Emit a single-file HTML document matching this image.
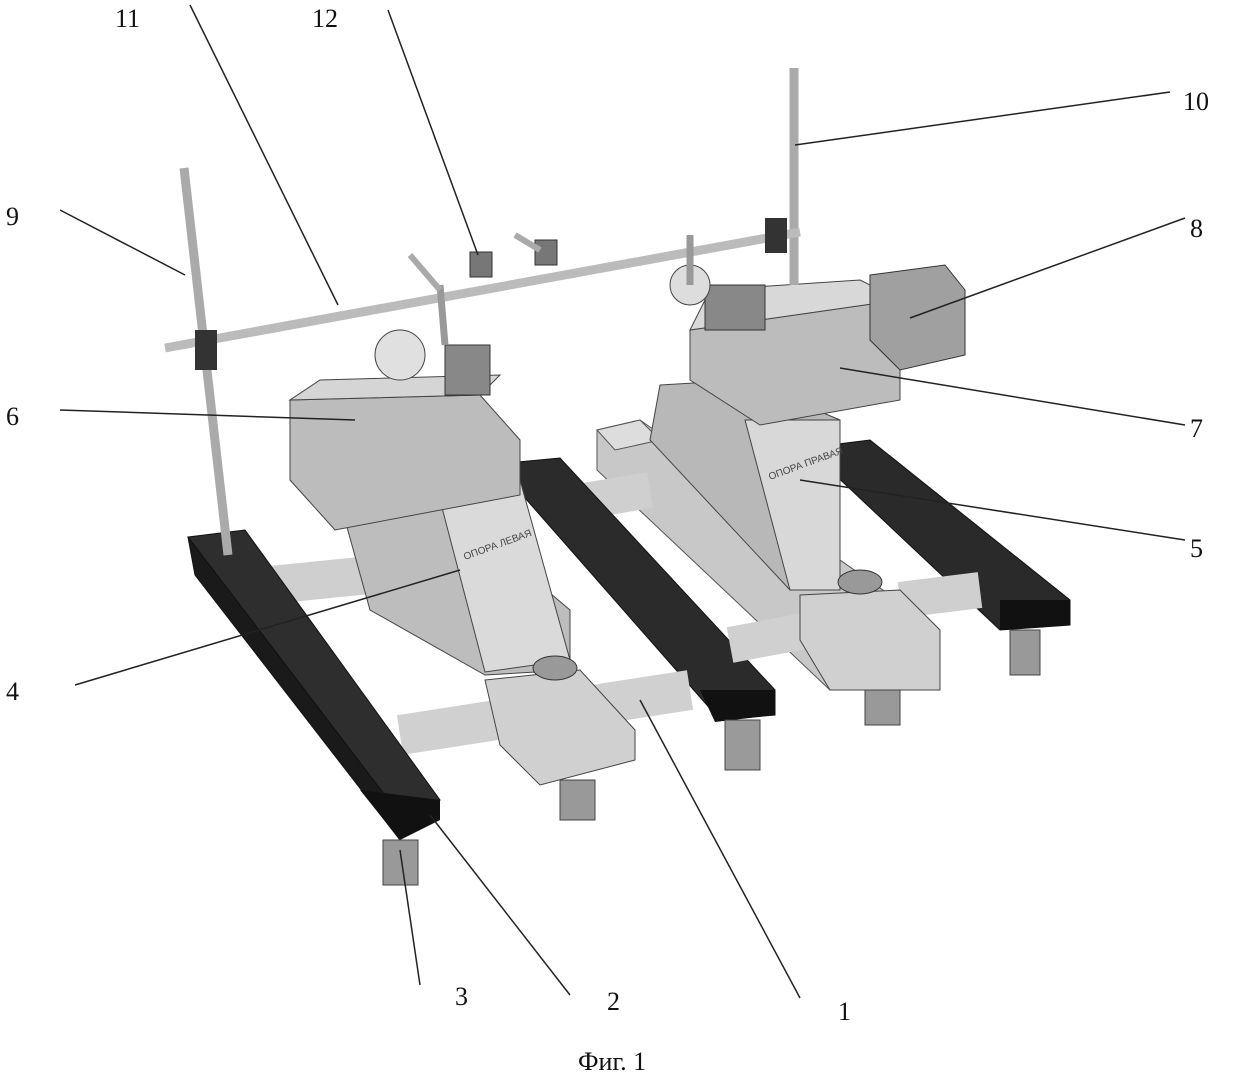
<!DOCTYPE html>
<html><head><meta charset="utf-8"><style>
html,body{margin:0;padding:0;background:#fff;}
svg{display:block}
.lb{font-family:"Liberation Serif",serif;font-size:26px;fill:#111}
.sm{font-family:"Liberation Sans",sans-serif;font-size:10px;fill:#444}
</style></head><body>
<svg width="1248" height="1076" viewBox="0 0 1248 1076" xmlns="http://www.w3.org/2000/svg">
<rect width="1248" height="1076" fill="#fff"/>

<!-- right base plate -->
<polygon points="597,430 640,420 940,630 940,690 830,690 597,470" fill="#c8c8c8" stroke="#555"/>
<polygon points="597,430 640,420 660,440 615,450" fill="#ddd" stroke="#555"/>
<!-- right dark beam -->
<polygon points="830,445 870,440 1070,600 1070,625 1000,630 830,470" fill="#2a2a2a" stroke="#111"/>
<polygon points="1000,600 1070,600 1070,625 1000,630" fill="#111"/>
<rect x="1010" y="630" width="30" height="45" fill="#999" stroke="#444"/>
<!-- back rods -->
<line x1="560" y1="505" x2="650" y2="490" stroke="#cfcfcf" stroke-width="36"/>
<line x1="900" y1="600" x2="980" y2="590" stroke="#cfcfcf" stroke-width="36"/>
<!-- middle dark beam -->
<polygon points="518,462 560,458 775,690 775,715 720,720 518,490" fill="#2b2b2b" stroke="#111"/>
<polygon points="700,690 775,690 775,715 715,722" fill="#111"/>
<rect x="725" y="720" width="35" height="50" fill="#9a9a9a" stroke="#444"/>
<!-- rods front -->
<line x1="400" y1="735" x2="690" y2="690" stroke="#d0d0d0" stroke-width="40"/>
<line x1="730" y1="645" x2="810" y2="630" stroke="#d0d0d0" stroke-width="36"/>
<line x1="270" y1="585" x2="370" y2="575" stroke="#cfcfcf" stroke-width="38"/>
<!-- right support 5 -->
<polygon points="660,385 745,380 840,420 840,590 790,590 650,440" fill="#b8b8b8" stroke="#444"/>
<polygon points="745,420 840,420 840,590 790,590" fill="#d8d8d8" stroke="#444"/>
<text class="sm" x="770" y="480" transform="rotate(-20 770 480)">ОПОРА ПРАВАЯ</text>
<!-- right clamp -->
<polygon points="800,595 900,590 940,630 940,690 830,690 800,640" fill="#d0d0d0" stroke="#444"/>
<ellipse cx="860" cy="582" rx="22" ry="12" fill="#999" stroke="#333"/>
<rect x="865" y="690" width="35" height="35" fill="#999" stroke="#444"/>
<!-- left support 4 -->
<polygon points="345,520 440,500 570,610 570,670 485,675 370,610" fill="#bdbdbd" stroke="#444"/>
<polygon points="440,500 520,480 570,660 485,672" fill="#dadada" stroke="#444"/>
<text class="sm" x="465" y="560" transform="rotate(-20 465 560)">ОПОРА ЛЕВАЯ</text>
<!-- left clamp -->
<polygon points="485,680 580,670 635,730 635,760 540,785 500,745" fill="#d0d0d0" stroke="#444"/>
<ellipse cx="555" cy="668" rx="22" ry="12" fill="#999" stroke="#333"/>
<rect x="560" y="780" width="35" height="40" fill="#999" stroke="#444"/>
<!-- left dark beam -->
<polygon points="188,537 245,530 440,800 400,815" fill="#2e2e2e" stroke="#111"/>
<polygon points="188,537 400,815 400,840 195,575" fill="#1a1a1a" stroke="#111"/>
<polygon points="360,790 440,800 440,820 400,840" fill="#111"/>
<rect x="383" y="840" width="35" height="45" fill="#999" stroke="#444"/>
<!-- block 6 -->
<polygon points="290,400 480,395 520,440 520,495 335,530 290,480" fill="#bcbcbc" stroke="#444"/>
<polygon points="290,400 480,395 500,375 320,380" fill="#d5d5d5" stroke="#444"/>
<circle cx="400" cy="355" r="25" fill="#e0e0e0" stroke="#444"/>
<rect x="445" y="345" width="45" height="50" fill="#888" stroke="#333"/>
<!-- block 7 -->
<polygon points="690,330 900,300 900,400 760,425 690,380" fill="#bcbcbc" stroke="#444"/>
<polygon points="690,330 710,290 860,280 900,300" fill="#d8d8d8" stroke="#444"/>
<rect x="705" y="285" width="60" height="45" fill="#888" stroke="#333"/>
<circle cx="690" cy="285" r="20" fill="#ddd" stroke="#444"/>
<!-- block 8 -->
<polygon points="870,275 945,265 965,290 965,355 900,370 870,340" fill="#a0a0a0" stroke="#333"/>
<!-- rods 9,10 and bar 11 -->
<line x1="184" y1="168" x2="228" y2="555" stroke="#aaa" stroke-width="9"/>
<line x1="794" y1="68" x2="794" y2="285" stroke="#aaa" stroke-width="9"/>
<line x1="165" y1="348" x2="800" y2="232" stroke="#bbb" stroke-width="9"/>
<rect x="195" y="330" width="22" height="40" fill="#333"/>
<rect x="765" y="218" width="22" height="35" fill="#333"/>
<line x1="440" y1="285" x2="445" y2="345" stroke="#999" stroke-width="7"/>
<line x1="690" y1="235" x2="690" y2="285" stroke="#999" stroke-width="7"/>
<rect x="470" y="252" width="22" height="25" fill="#777" stroke="#333"/>
<rect x="535" y="240" width="22" height="25" fill="#777" stroke="#333"/>
<line x1="410" y1="255" x2="440" y2="290" stroke="#aaa" stroke-width="6"/>
<line x1="515" y1="235" x2="540" y2="250" stroke="#aaa" stroke-width="6"/>

<!-- leader lines -->
<g stroke="#222" stroke-width="1.5">
<line x1="190" y1="5" x2="338" y2="305"/>
<line x1="388" y1="10" x2="478" y2="255"/>
<line x1="1170" y1="92" x2="795" y2="145"/>
<line x1="60" y1="210" x2="185" y2="275"/>
<line x1="1185" y1="218" x2="910" y2="318"/>
<line x1="60" y1="410" x2="355" y2="420"/>
<line x1="1185" y1="425" x2="840" y2="368"/>
<line x1="1185" y1="540" x2="800" y2="480"/>
<line x1="75" y1="685" x2="460" y2="570"/>
<line x1="420" y1="985" x2="400" y2="850"/>
<line x1="570" y1="995" x2="430" y2="815"/>
<line x1="800" y1="998" x2="640" y2="700"/>
</g>
<text class="lb" x="115" y="27">11</text>
<text class="lb" x="312" y="27">12</text>
<text class="lb" x="1183" y="110">10</text>
<text class="lb" x="6" y="225">9</text>
<text class="lb" x="1190" y="237">8</text>
<text class="lb" x="6" y="425">6</text>
<text class="lb" x="1190" y="437">7</text>
<text class="lb" x="1190" y="557">5</text>
<text class="lb" x="6" y="700">4</text>
<text class="lb" x="455" y="1005">3</text>
<text class="lb" x="607" y="1010">2</text>
<text class="lb" x="838" y="1020">1</text>
<text class="lb" x="578" y="1070">Фиг. 1</text>
</svg>
</body></html>
